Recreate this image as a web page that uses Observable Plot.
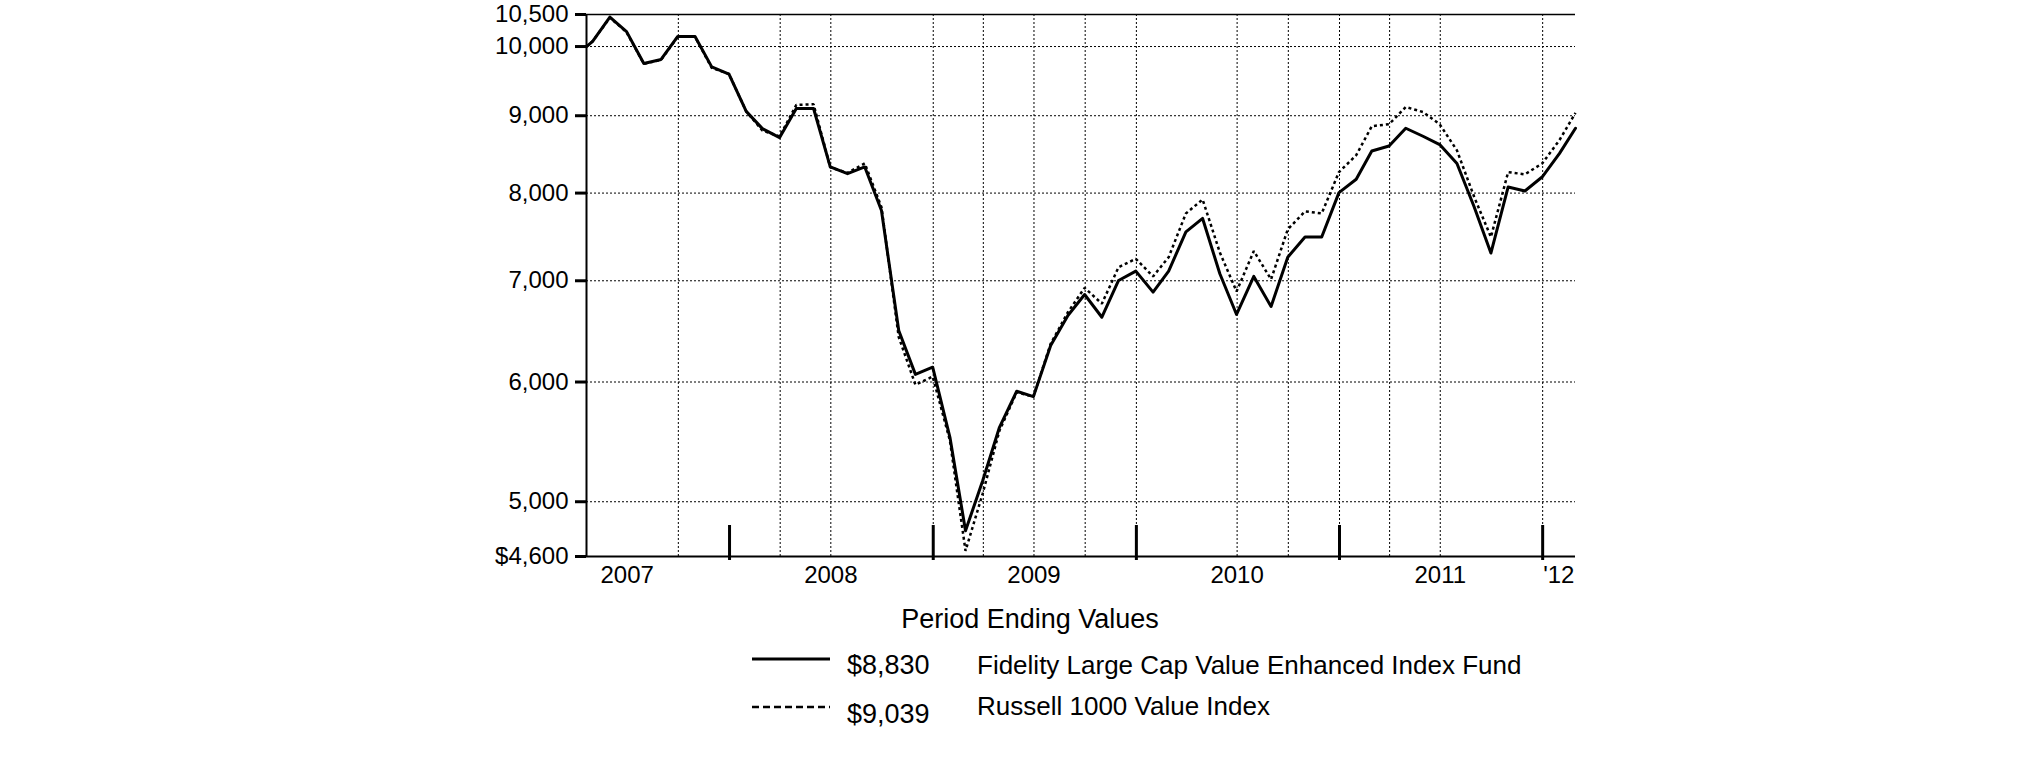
<!DOCTYPE html>
<html><head><meta charset="utf-8">
<script src="https://cdn.jsdelivr.net/npm/d3@7"></script>
<script src="https://cdn.jsdelivr.net/npm/@observablehq/plot@0.6"></script>
<style>
body{margin:0;background:#fff;font-family:"Liberation Sans",Arial,Helvetica,sans-serif;}
#chart svg{display:block;}
</style></head><body><div id="chart"></div><script>
const dates = ["2007-04-19","2007-04-30","2007-05-31","2007-06-30","2007-07-31","2007-08-31","2007-09-30","2007-10-31","2007-11-30","2007-12-31",
"2008-01-31","2008-02-29","2008-03-31","2008-04-30","2008-05-31","2008-06-30","2008-07-31","2008-08-31","2008-09-30","2008-10-31","2008-11-30","2008-12-31",
"2009-01-31","2009-02-28","2009-03-31","2009-04-30","2009-05-31","2009-06-30","2009-07-31","2009-08-31","2009-09-30","2009-10-31","2009-11-30","2009-12-31",
"2010-01-31","2010-02-28","2010-03-31","2010-04-30","2010-05-31","2010-06-30","2010-07-31","2010-08-31","2010-09-30","2010-10-31","2010-11-30","2010-12-31",
"2011-01-31","2011-02-28","2011-03-31","2011-04-30","2011-05-31","2011-06-30","2011-07-31","2011-08-31","2011-09-30","2011-10-31","2011-11-30","2011-12-31",
"2012-01-31","2012-02-29"];
const fund = [10000,10080,10460,10230,9745,9805,10155,10155,9695,9590,
9060,8825,8705,9100,9100,8325,8240,8325,7790,6490,6070,6137,
5515,4784,5164,5600,5916,5868,6344,6639,6855,6622,7003,7104,
6880,7104,7541,7697,7075,6650,7047,6731,7256,7482,7482,8006,
8170,8529,8594,8830,8723,8613,8368,7832,7302,8075,8025,8198,
8496,8830];
const russell = [10000,10080,10450,10220,9740,9800,10150,10150,9680,9590,
9060,8800,8720,9150,9158,8320,8250,8370,7830,6425,5975,6050,
5487,4640,5065,5572,5907,5868,6360,6673,6925,6760,7146,7238,
7047,7256,7756,7922,7308,6887,7324,7015,7570,7780,7756,8260,
8475,8858,8884,9120,9051,8884,8537,7953,7482,8260,8231,8368,
8670,9039];
const seriesNames = ["Fidelity Large Cap Value Enhanced Index Fund","Russell 1000 Value Index"];
const yTicks = [4600,5000,6000,7000,8000,9000,10000,10500];
const yGrid = [5000,6000,7000,8000,9000,10000];
const xGridDates = ["2007-10-01","2008-04-01","2008-07-01","2009-01-01","2009-04-01","2009-07-01","2009-10-01","2010-01-01","2010-07-01","2010-10-01","2011-01-01","2011-04-01","2011-07-01","2012-01-01"];
const yearTickDates = ["2008-01-01","2009-01-01","2010-01-01","2011-01-01","2012-01-01"];
const yearLabelDates = ["2007-07-01","2008-07-01","2009-07-01","2010-07-01","2011-07-01","2012-01-30"];
const yearLabels = ["2007","2008","2009","2010","2011","'12"];
const legendTitle = "Period Ending Values";

const P = s => new Date(s + "T00:00:00Z");
const rows = dates.map((d,i)=>({date:P(d), fund:fund[i], russell:russell[i]}));
const labelMap = new Map(yearLabelDates.map((d,i)=>[+P(d), yearLabels[i]]));
const fmt = d3.format(",");
const font = '"Liberation Sans", Arial, Helvetica, sans-serif';

const chart = Plot.plot({
  width: 2025, height: 600,
  marginLeft: 586, marginRight: 450, marginTop: 14, marginBottom: 44,
  style: {fontFamily: font, fontSize: "24px", color: "#000", background: "#fff"},
  x: {type: "utc", domain: [P(dates[0]), P(dates[dates.length-1])]},
  y: {type: "log", domain: [4600, 10500]},
  marks: [
    Plot.ruleY(yGrid, {stroke: "#000", strokeWidth: 1, strokeDasharray: "2,2"}),
    Plot.ruleX(xGridDates.map(P), {stroke: "#000", strokeWidth: 1, strokeDasharray: "2,2"}),
    Plot.ruleY([10500], {stroke: "#000", strokeWidth: 1.5}),
    Plot.ruleY([4600], {stroke: "#000", strokeWidth: 2}),
    Plot.ruleX([P(dates[0])], {stroke: "#000", strokeWidth: 2}),
    Plot.ruleX(yearTickDates.map(P), {stroke: "#000", strokeWidth: 3, insetTop: 511, insetBottom: -4}),
    Plot.line(rows, {x: "date", y: "russell", stroke: "#000", strokeWidth: 2.5, strokeDasharray: "3,3", strokeLinecap: "butt", strokeLinejoin: "miter"}),
    Plot.line(rows, {x: "date", y: "fund", stroke: "#000", strokeWidth: 3}),
    Plot.axisY({ticks: yTicks, tickFormat: d => d === 4600 ? "$" + fmt(d) : fmt(d), tickSize: 11, tickPadding: 7, strokeWidth: 3, fontSize: 24, label: null}),
    Plot.axisX({ticks: yearLabelDates.map(P), tickFormat: d => labelMap.get(+d), tickSize: 0, tickPadding: 9, fontSize: 24, label: null})
  ]
});
document.getElementById("chart").appendChild(chart);

// Legend below the chart
const money = d => "$" + fmt(d);
const leg = d3.create("svg").attr("width", 2025).attr("height", 161)
  .style("display", "block").style("font-family", font);
leg.append("text").attr("x", 1030).attr("y", 28).attr("text-anchor", "middle")
  .attr("font-size", 27).text(legendTitle);
const entries = [
  {name: seriesNames[0], value: fund[fund.length-1], ly: 59, vy: 74, ny: 74, dash: null, w: 3},
  {name: seriesNames[1], value: russell[russell.length-1], ly: 107, vy: 123, ny: 115, dash: "7,4", w: 2.5}
];
for (const e of entries) {
  const l = leg.append("line").attr("x1", 752).attr("x2", 830).attr("y1", e.ly).attr("y2", e.ly)
    .attr("stroke", "#000").attr("stroke-width", e.w);
  if (e.dash) l.attr("stroke-dasharray", e.dash);
  leg.append("text").attr("x", 847).attr("y", e.vy).attr("font-size", 27).text(money(e.value));
  leg.append("text").attr("x", 977).attr("y", e.ny).attr("font-size", 26).text(e.name);
}
document.getElementById("chart").appendChild(leg.node());
</script></body></html>
